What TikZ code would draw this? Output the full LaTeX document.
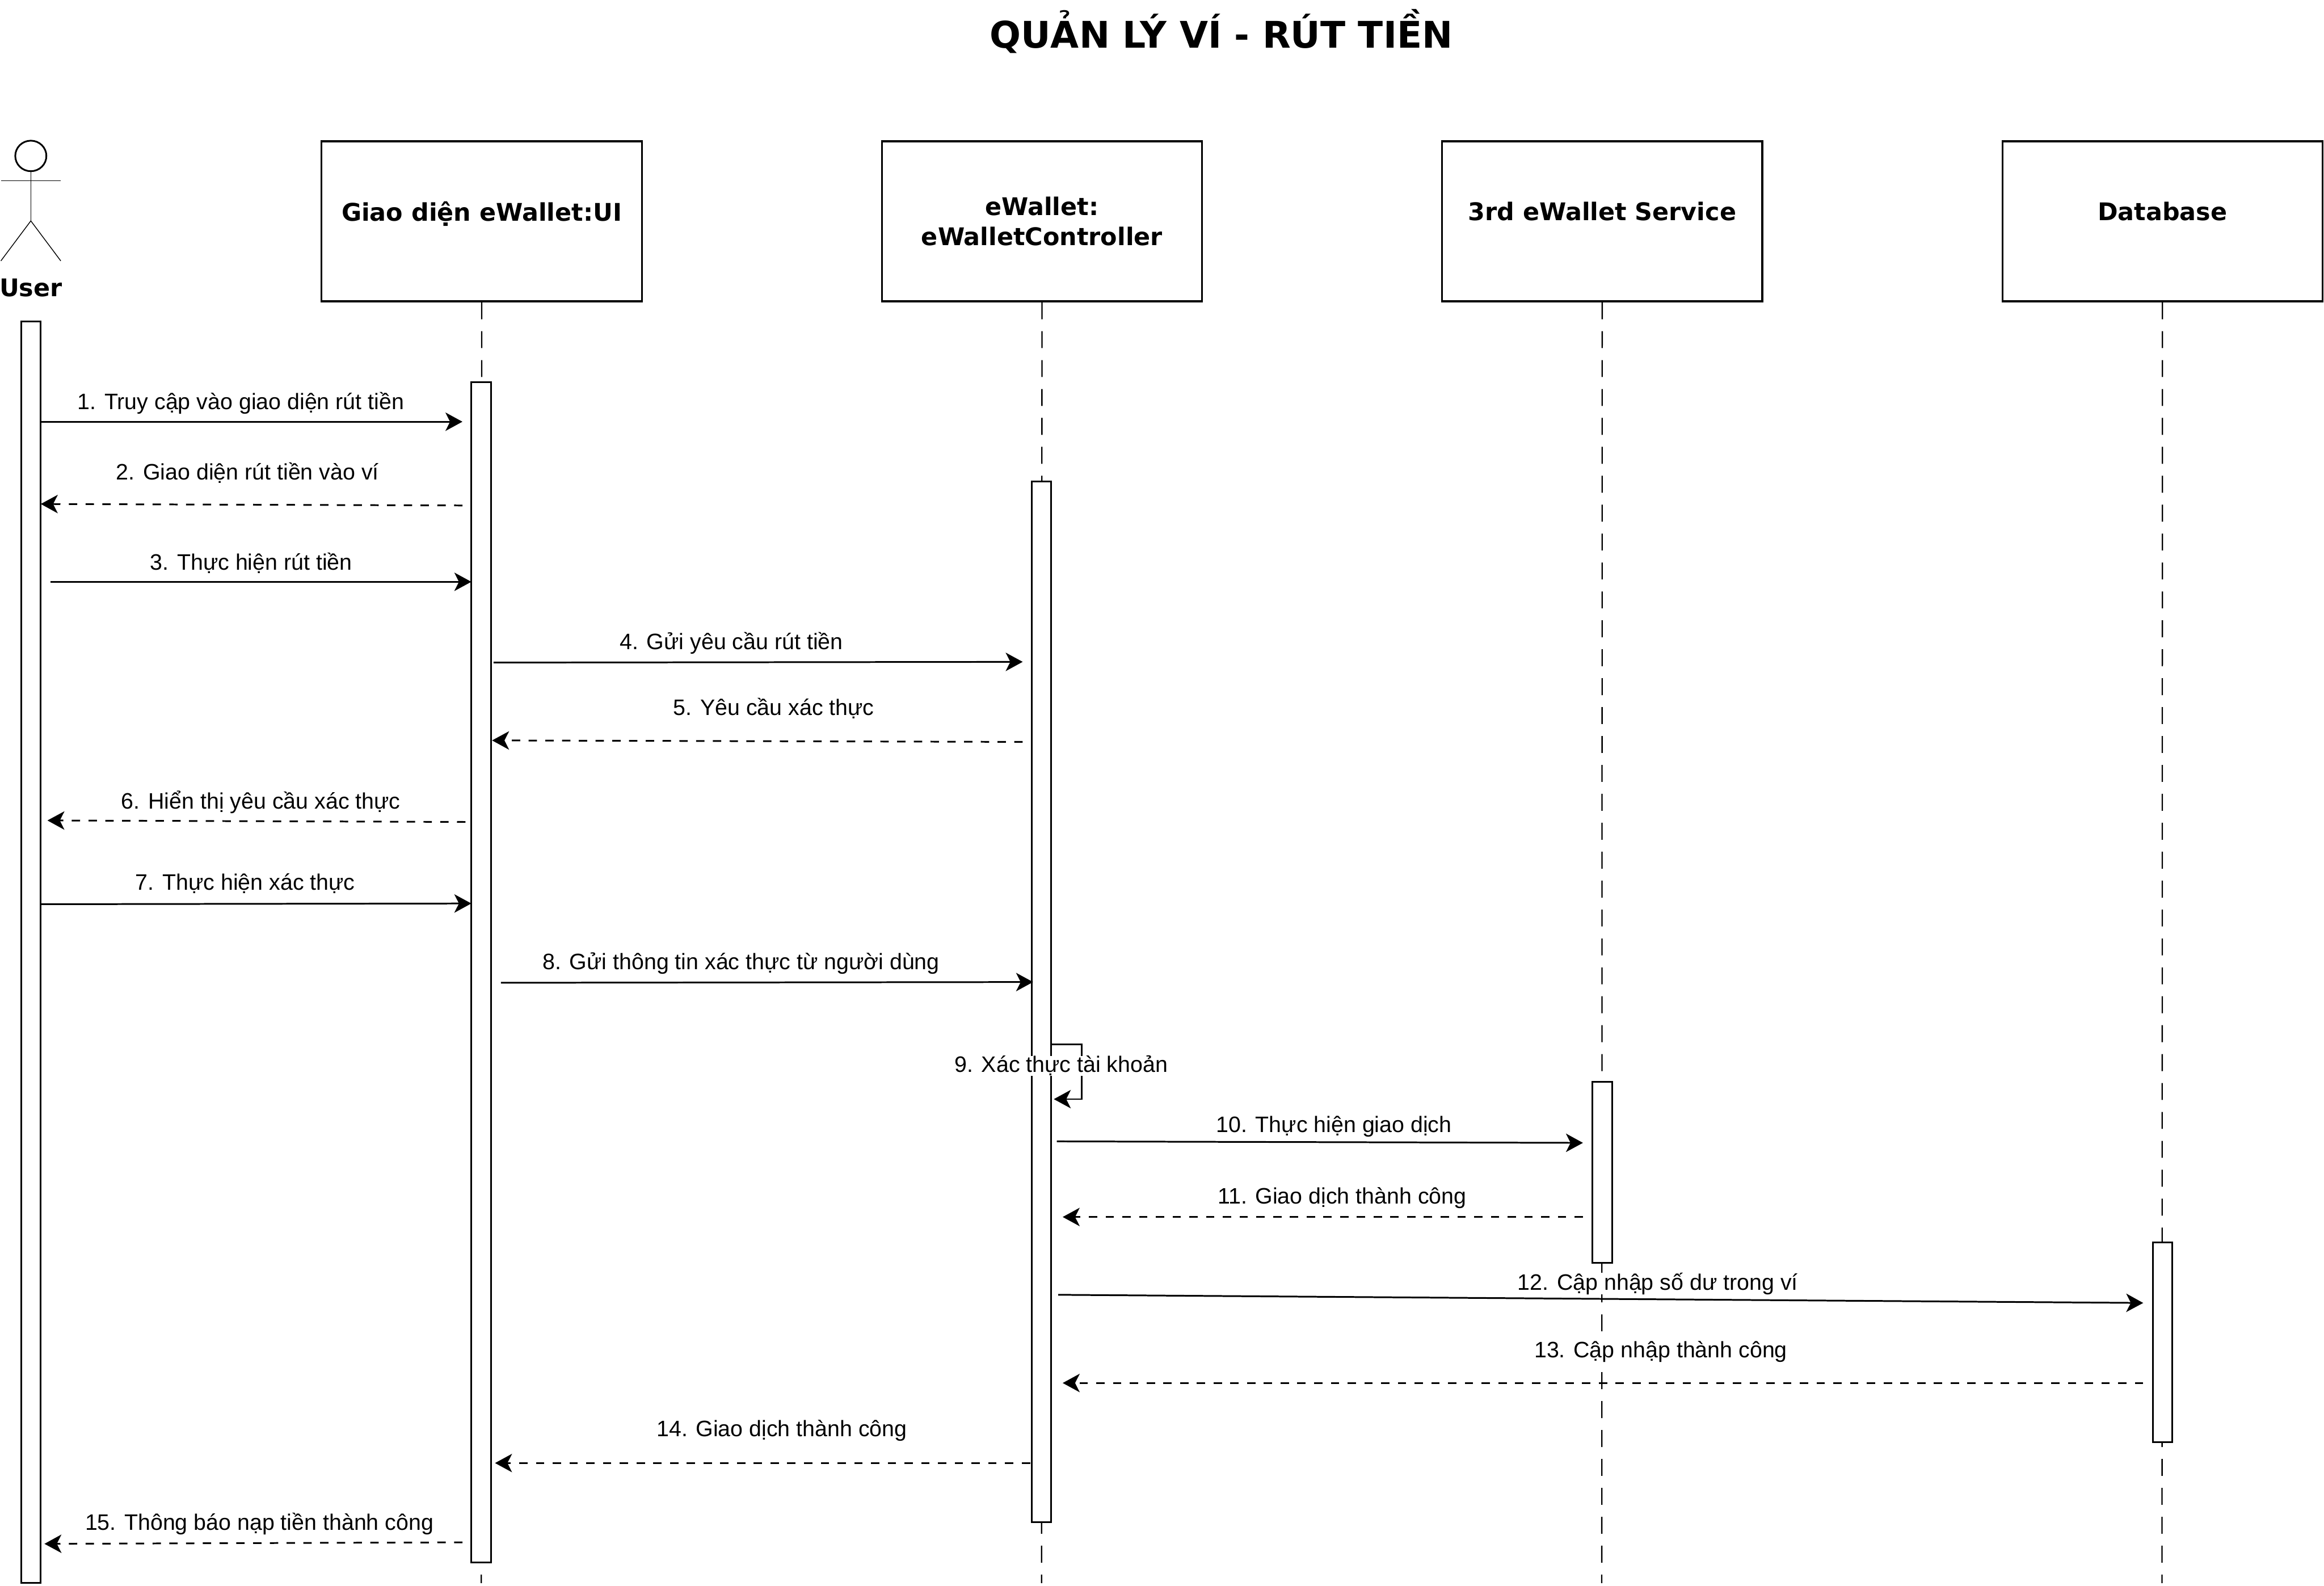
\documentclass[tikz,border=0pt]{standalone}
\usepackage{fontspec}
\setmainfont{Liberation Sans}
\newfontfamily\boldfam{DejaVu Sans}
\usetikzlibrary{arrows.meta,shapes.geometric}
\newcommand{\ux}{0.026122cm}
\tikzset{
  x=\ux, y=-\ux,
  line width=0.85pt,
  headbox/.style={draw=black, fill=white, line width=0.9pt, minimum width=216*\ux, minimum height=108*\ux, inner sep=0pt, align=center, font=\boldfam\bfseries\fontsize{12.2}{15.2}\selectfont},
  actbar/.style={draw=black, fill=white, line width=0.85pt, minimum width=13.2*\ux, inner sep=0pt},
  lifeline/.style={dash pattern=on 8.5pt off 6pt, line width=0.65pt},
  msg/.style={-{Stealth[length=8.5pt, width=9.2pt, inset=2.3pt]}, line width=0.85pt},
  reply/.style={msg, dash pattern=on 4.2pt off 4.2pt},
  msglabel/.style={fill=white, inner sep=0pt, font=\fontsize{11.2}{13}\selectfont},
  titlelabel/.style={inner sep=0pt, font=\boldfam\bfseries\fontsize{18.4}{22}\selectfont},
  actorlabel/.style={inner sep=0pt, font=\boldfam\bfseries\fontsize{12.2}{15}\selectfont},
}
\begin{document}
\begin{tikzpicture}
\useasboundingbox (0,0) rectangle (1568,1069.6);
% title
\node[titlelabel] (title) at (824,21) {QUẢN LÝ VÍ - RÚT TIỀN};
% heads
\node[headbox] (ui) at (325,149.3) {\raisebox{1.5ex}{Giao diện eWallet:UI}};
\node[headbox] (ctrl) at (703,149.3) {eWallet:\\eWalletController};
\node[headbox] (svc) at (1081,149.3) {\raisebox{1.5ex}{3rd eWallet Service}};
\node[headbox] (db) at (1459,149.3) {\raisebox{1.5ex}{Database}};
% lifeline ends
\coordinate (uiend) at (324.7,1068);
\coordinate (ctrlend) at (702.7,1068);
\coordinate (svcend) at (1080.7,1068);
\coordinate (dbend) at (1458.7,1068);
\draw[lifeline] (ui.south) -- (uiend);
\draw[lifeline] (ctrl.south) -- (ctrlend);
\draw[lifeline] (svc.south) -- (svcend);
\draw[lifeline] (db.south) -- (dbend);
% actor
\node[draw=black, line width=0.85pt, ellipse, minimum width=21*\ux, minimum height=20.6*\ux, inner sep=0pt] (head) at (20.8,105.2) {};
\coordinate (hip) at (20.8,149);
\coordinate (armL) at (0.6,122);
\coordinate (armR) at (41,122);
\coordinate (legL) at (0.6,176);
\coordinate (legR) at (41,176);
\draw (head.south) -- (hip);
\draw (armL) -- (armR);
\draw (legL) -- (hip) -- (legR);
\node[actorlabel] (user) at (20.8,194) {User};
% activations
\node[actbar, minimum height=851*\ux] (uact) at (20.8,642.5) {};
\node[actbar, minimum height=796*\ux] (uiact) at (324.7,656) {};
\node[actbar, minimum height=702*\ux] (cact) at (702.7,676) {};
\node[actbar, minimum height=122*\ux] (sact) at (1081,791) {};
\node[actbar, minimum height=135*\ux] (dact) at (1459,905.5) {};
% message end points
\coordinate (a1) at (27.5,284.5);   \coordinate (b1) at (312,284.5);
\coordinate (a2) at (312,341);      \coordinate (b2) at (27.5,340);
\coordinate (a3) at (34,392.5);     \coordinate (b3) at (318,392.5);
\coordinate (a4) at (333,447);      \coordinate (b4) at (690,446.5);
\coordinate (a5) at (690,500.5);    \coordinate (b5) at (332,499.5);
\coordinate (a6) at (314,554.5);    \coordinate (b6) at (32,553.5);
\coordinate (a7) at (27.5,610);     \coordinate (b7) at (318,609.5);
\coordinate (a8) at (338,663);      \coordinate (b8) at (697,662.5);
\coordinate (a9) at (709.3,704.5);  \coordinate (c9) at (730,704.5);
\coordinate (d9) at (730,741.5);    \coordinate (b9) at (711,741.5);
\coordinate (a10) at (713,770);     \coordinate (b10) at (1068,771);
\coordinate (a11) at (1068,821);    \coordinate (b11) at (717,821);
\coordinate (a12) at (714,873.5);   \coordinate (b12) at (1446,879);
\coordinate (a13) at (1446,933);    \coordinate (b13) at (717,933);
\coordinate (a14) at (695,987);     \coordinate (b14) at (334,987);
\coordinate (a15) at (312,1040.5);  \coordinate (b15) at (30,1041.5);
% messages
\draw[msg] (a1) -- (b1);
\draw[reply] (a2) -- (b2);
\draw[msg] (a3) -- (b3);
\draw[msg] (a4) -- (b4);
\draw[reply] (a5) -- (b5);
\draw[reply] (a6) -- (b6);
\draw[msg] (a7) -- (b7);
\draw[msg] (a8) -- (b8);
\draw[msg] (a9) -- (c9) -- (d9) -- (b9);
\draw[msg] (a10) -- (b10);
\draw[reply] (a11) -- (b11);
\draw[msg] (a12) -- (b12);
\draw[reply] (a13) -- (b13);
\draw[reply] (a14) -- (b14);
\draw[reply] (a15) -- (b15);
% labels
\node[msglabel] (l1) at (162.5,272) {1. Truy cập vào giao diện rút tiền};
\node[msglabel] (l2) at (167,319) {2. Giao diện rút tiền vào ví};
\node[msglabel] (l3) at (169.5,380) {3. Thực hiện rút tiền};
\node[msglabel] (l4) at (493.5,434) {4. Gửi yêu cầu rút tiền};
\node[msglabel] (l5) at (522,478) {5. Yêu cầu xác thực};
\node[msglabel] (l6) at (176,541) {6. Hiển thị yêu cầu xác thực};
\node[msglabel] (l7) at (165.5,596) {7. Thực hiện xác thực};
\node[msglabel] (l8) at (500,650) {8. Gửi thông tin xác thực từ người dùng};
\node[msglabel] (l9) at (716,719) {9. Xác thực tài khoản};
\node[msglabel] (l10) at (900,760) {10. Thực hiện giao dịch};
\node[msglabel] (l11) at (905.5,808) {11. Giao dịch thành công};
\node[msglabel] (l12) at (1118.5,866) {12. Cập nhập số dư trong ví};
\node[msglabel] (l13) at (1120.5,912) {13. Cập nhập thành công};
\node[msglabel] (l14) at (527.5,965) {14. Giao dịch thành công};
\node[msglabel] (l15) at (175,1028) {15. Thông báo nạp tiền thành công};
\end{tikzpicture}
\end{document}
